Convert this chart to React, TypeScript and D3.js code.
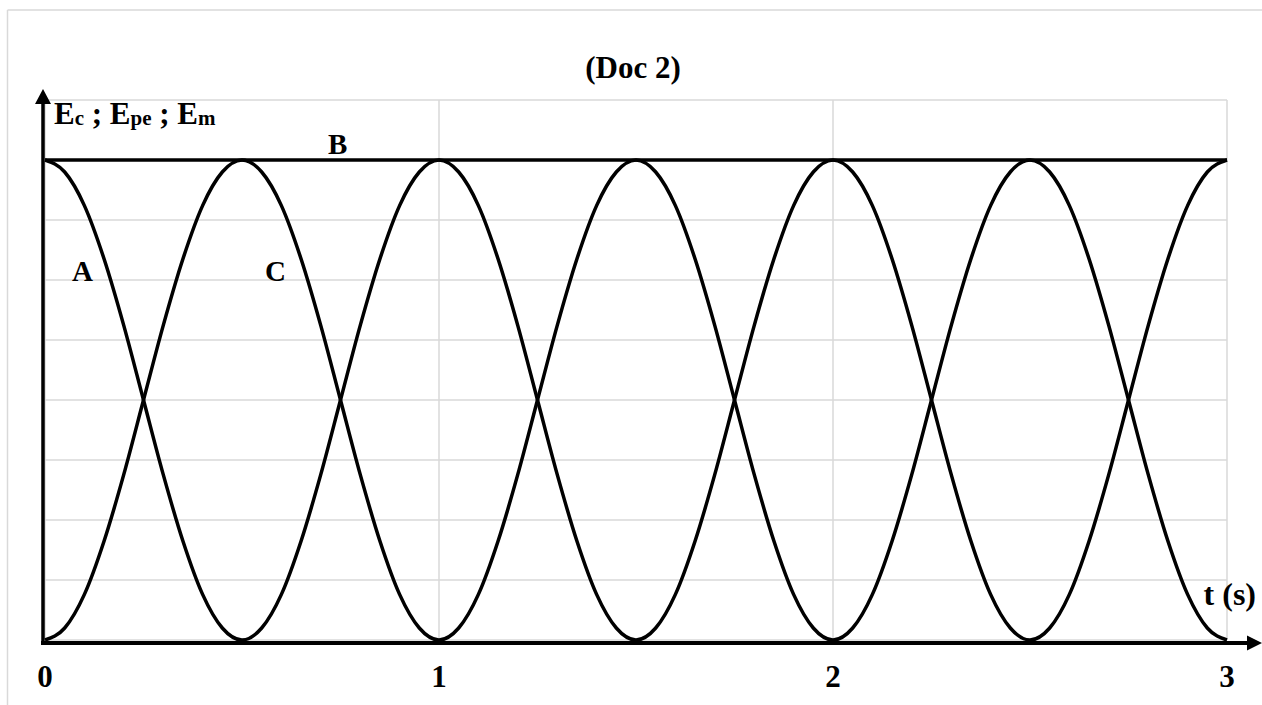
import React from "react";
import * as d3 from "d3";

const timeS = [
  0, 0.05, 0.1, 0.15, 0.2, 0.25, 0.3, 0.35, 0.4, 0.45,
  0.5, 0.55, 0.6, 0.65, 0.7, 0.75, 0.8, 0.85, 0.9, 0.95,
  1, 1.05, 1.1, 1.15, 1.2, 1.25, 1.3, 1.35, 1.4, 1.45,
  1.5, 1.55, 1.6, 1.65, 1.7, 1.75, 1.8, 1.85, 1.9, 1.95,
  2, 2.05, 2.1, 2.15, 2.2, 2.25, 2.3, 2.35, 2.4, 2.45,
  2.5, 2.55, 2.6, 2.65, 2.7, 2.75, 2.8, 2.85, 2.9, 2.95,
  3,
];

const energyA = [
  8, 7.8, 7.24, 6.35, 5.24, 4, 2.76, 1.65, 0.76, 0.2,
  0, 0.2, 0.76, 1.65, 2.76, 4, 5.24, 6.35, 7.24, 7.8,
  8, 7.8, 7.24, 6.35, 5.24, 4, 2.76, 1.65, 0.76, 0.2,
  0, 0.2, 0.76, 1.65, 2.76, 4, 5.24, 6.35, 7.24, 7.8,
  8, 7.8, 7.24, 6.35, 5.24, 4, 2.76, 1.65, 0.76, 0.2,
  0, 0.2, 0.76, 1.65, 2.76, 4, 5.24, 6.35, 7.24, 7.8,
  8,
];

const energyC = [
  0, 0.2, 0.76, 1.65, 2.76, 4, 5.24, 6.35, 7.24, 7.8,
  8, 7.8, 7.24, 6.35, 5.24, 4, 2.76, 1.65, 0.76, 0.2,
  0, 0.2, 0.76, 1.65, 2.76, 4, 5.24, 6.35, 7.24, 7.8,
  8, 7.8, 7.24, 6.35, 5.24, 4, 2.76, 1.65, 0.76, 0.2,
  0, 0.2, 0.76, 1.65, 2.76, 4, 5.24, 6.35, 7.24, 7.8,
  8, 7.8, 7.24, 6.35, 5.24, 4, 2.76, 1.65, 0.76, 0.2,
  0,
];

const timeB = [0, 3];
const energyB = [8, 8];

const xTicks = [0, 1, 2, 3];
const xTickLabels = ["0", "1", "2", "3"];
const yGrid = [0, 1, 2, 3, 4, 5, 6, 7, 8, 9];

const W = 1262;
const H = 705;
const FONT = "'Liberation Serif', 'Times New Roman', Times, serif";

export default function App() {
  const x = d3.scaleLinear().domain([0, 3]).range([45, 1227]);
  const y = d3.scaleLinear().domain([0, 9]).range([640, 100]);

  const line = d3
    .line<[number, number]>()
    .x((d) => x(d[0]))
    .y((d) => y(d[1]))
    .curve(d3.curveMonotoneX);

  const ptsA: [number, number][] = timeS.map((t, i) => [t, energyA[i]]);
  const ptsC: [number, number][] = timeS.map((t, i) => [t, energyC[i]]);
  const ptsB: [number, number][] = timeB.map((t, i) => [t, energyB[i]]);

  const grid = "#d9d9d9";
  const axisX = 43;
  const axisY = 643;

  return (
    <div style={{ position: "absolute", left: 0, top: 0, width: W, height: H }}>
      <svg width={W} height={H} style={{ display: "block" }} fontFamily={FONT}>
        <rect x={0} y={0} width={W} height={H} fill="#fff" />
        {/* outer frame */}
        <line x1={7.5} y1={10} x2={W} y2={10} stroke={grid} strokeWidth={1.5} />
        <line x1={7.5} y1={10} x2={7.5} y2={H} stroke={grid} strokeWidth={1.5} />

        {/* grid */}
        {yGrid.map((v) => (
          <line key={"h" + v} x1={x(0)} x2={x(3)} y1={y(v)} y2={y(v)} stroke={grid} strokeWidth={1.5} />
        ))}
        {xTicks.map((v) => (
          <line key={"v" + v} x1={x(v)} x2={x(v)} y1={y(9)} y2={y(0)} stroke={grid} strokeWidth={1.5} />
        ))}

        {/* series */}
        <path d={line(ptsB) || ""} fill="none" stroke="#000" strokeWidth={3.5} />
        <path d={line(ptsA) || ""} fill="none" stroke="#000" strokeWidth={3.5} />
        <path d={line(ptsC) || ""} fill="none" stroke="#000" strokeWidth={3.5} />

        {/* axes */}
        <line x1={axisX} y1={100} x2={axisX} y2={axisY + 2} stroke="#000" strokeWidth={3.5} />
        <path d={`M${axisX},89 L${axisX - 8},104 L${axisX + 8},104 Z`} fill="#000" />
        <line x1={axisX - 2} y1={axisY} x2={1250} y2={axisY} stroke="#000" strokeWidth={4} />
        <path d={`M1262,${axisY} L1247,${axisY - 7.5} L1247,${axisY + 7.5} Z`} fill="#000" />

        {/* tick labels */}
        {xTicks.map((v, i) => (
          <text key={"t" + v} x={x(v)} y={687} textAnchor="middle" fontSize={31} fontWeight="bold">
            {xTickLabels[i]}
          </text>
        ))}

        {/* title */}
        <text x={633} y={78} textAnchor="middle" fontSize={31} fontWeight="bold">
          (Doc 2)
        </text>

        {/* axis titles */}
        <text x={54} y={124} fontSize={31} fontWeight="bold">
          E<tspan fontSize={21} dy={1}>c</tspan>
          <tspan dy={-1}> ; E</tspan>
          <tspan fontSize={21} dy={1}>pe</tspan>
          <tspan dy={-1}> ; E</tspan>
          <tspan fontSize={21} dy={1}>m</tspan>
        </text>
        <text x={1256} y={605} textAnchor="end" fontSize={32} fontWeight="bold">
          t (s)
        </text>

        {/* curve labels */}
        <text x={72} y={281} fontSize={29} fontWeight="bold">A</text>
        <text x={328} y={154} fontSize={29} fontWeight="bold">B</text>
        <text x={265} y={281} fontSize={29} fontWeight="bold">C</text>
      </svg>
    </div>
  );
}
